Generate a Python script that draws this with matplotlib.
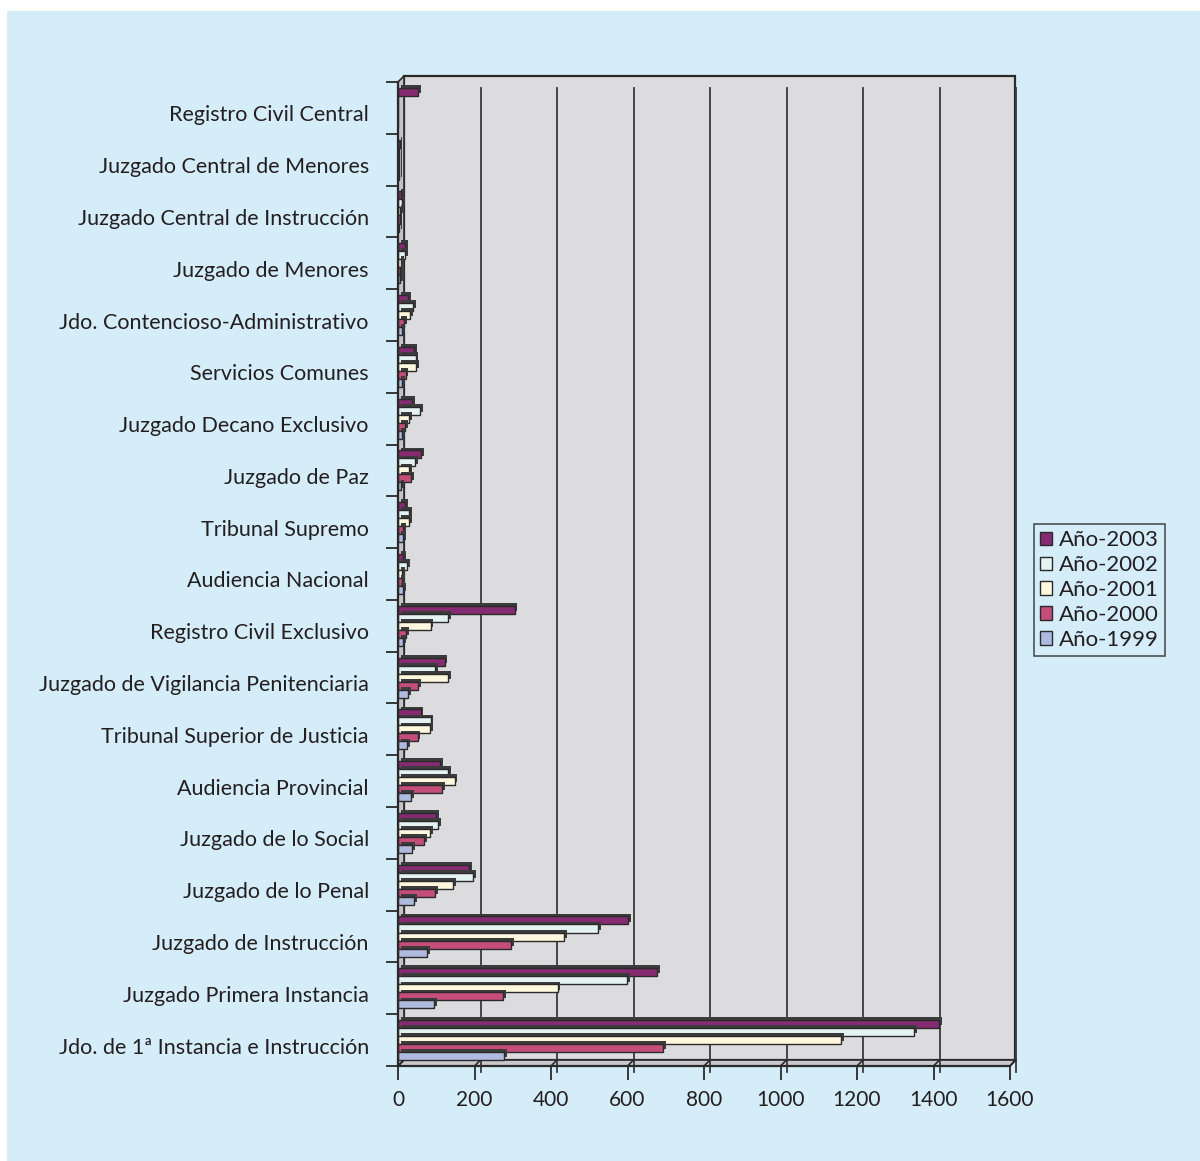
import numpy as np
import matplotlib.pyplot as plt
from matplotlib.patches import Polygon, Rectangle, Patch
from matplotlib.transforms import ScaledTranslation
import matplotlib.patheffects as pe

plt.rcParams['font.family'] = ['Lato', 'DejaVu Sans']

W, H = 1200, 1161

categories = [
    "Registro Civil Central",
    "Juzgado Central de Menores",
    "Juzgado Central de Instrucción",
    "Juzgado de Menores",
    "Jdo. Contencioso-Administrativo",
    "Servicios Comunes",
    "Juzgado Decano Exclusivo",
    "Juzgado de Paz",
    "Tribunal Supremo",
    "Audiencia Nacional",
    "Registro Civil Exclusivo",
    "Juzgado de Vigilancia Penitenciaria",
    "Tribunal Superior de Justicia",
    "Audiencia Provincial",
    "Juzgado de lo Social",
    "Juzgado de lo Penal",
    "Juzgado de Instrucción",
    "Juzgado Primera Instancia",
    "Jdo. de 1ª Instancia e Instrucción",
]

years = ["Año-2003", "Año-2002", "Año-2001", "Año-2000", "Año-1999"]

y2003 = [52, 4, 8, 18, 26, 43, 37, 60, 19, 14, 305, 122, 59, 110, 99, 186, 601, 677, 1415]
y2002 = [0, 3, 10, 18, 40, 46, 57, 44, 30, 24, 131, 97, 85, 130, 105, 197, 524, 599, 1350]
y2001 = [0, 3, 6, 8, 31, 47, 29, 29, 30, 11, 85, 130, 84, 148, 84, 145, 435, 417, 1158]
y2000 = [0, 2, 4, 6, 16, 20, 18, 35, 14, 11, 22, 52, 51, 115, 68, 97, 296, 274, 694]
y1999 = [0, 2, 3, 5, 10, 11, 11, 9, 14, 14, 14, 26, 23, 34, 37, 42, 76, 95, 278]

series = [y2003, y2002, y2001, y2000, y1999]
colors = ["#862a72", "#e4f3f1", "#fff8de", "#c44d7a", "#aebade"]

x_ticks = [0, 200, 400, 600, 800, 1000, 1200, 1400, 1600]

EDGE = "#2a2a2a"
TEXT = "#231f20"
BG = "#d5ecf9"
WALL = "#dcdcde"

fig = plt.figure(figsize=(W / 100, H / 100), dpi=100)
fig.patch.set_facecolor("white")

# pixel-space layer for background and chart walls
bg = fig.add_axes([0, 0, 1, 1])
bg.set_xlim(0, W)
bg.set_ylim(H, 0)
bg.axis("off")
bg.add_patch(Rectangle((7, 11), W, H, facecolor=BG, edgecolor="none"))

# front plane of the plot, in pixels
L, R, T, B = 398, 1010, 82, 1066
D = 6  # depth of the pseudo 3D walls
bg.add_patch(Polygon([(L + D, T - D), (R + D - 1, T - D), (R + D - 1, B - D), (L + D, B - D)],
                     closed=True, facecolor=WALL, edgecolor=EDGE, lw=1.6))
bg.add_patch(Polygon([(L, T), (L + D, T - D), (L + D, B - D), (L, B)],
                     closed=True, facecolor="#c4c4c6", edgecolor=EDGE, lw=1.2))
bg.add_patch(Polygon([(L, B), (L + D, B - D), (R + D - 1, B - D), (R, B)],
                     closed=True, facecolor="#c9c9cb", edgecolor=EDGE, lw=1.2))

ax = fig.add_axes([L / W, 1 - B / H, (R - L) / W, (B - T) / H])
ax.patch.set_alpha(0)

n = len(categories)
xmax = 1600
ax.set_xlim(0, xmax)
ax.set_ylim(n - 0.5, -0.5)

# grid lines on the back wall and their diagonals across the floor
px_x = (R - L) / xmax
dx = D / px_x
dy = D / (B - T)
for v in x_ticks[1:]:
    ax.plot([v + dx, v + dx], [-dy, 1 - dy], transform=ax.get_xaxis_transform(),
            color="#3a3a3a", lw=1.3, zorder=1, clip_on=False)
for v in x_ticks:
    ax.plot([v, v + dx], [0, dy], transform=ax.get_xaxis_transform(),
            color=EDGE, lw=1.2, zorder=1, clip_on=False)

bar_h = 0.155
idx = np.arange(n)
shadow = [pe.SimplePatchShadow(offset=(2.0, 2.0), shadow_rgbFace="#3c3c3c", alpha=1.0),
          pe.Normal()]
for k, (vals, col) in enumerate(zip(series, colors)):
    pos = idx + (k - 2) * bar_h
    bars = ax.barh(pos, vals, height=bar_h, color=col, edgecolor=EDGE, lw=1.0,
                   zorder=3, label=years[k])
    for b in bars:
        b.set_path_effects(shadow)

for s in ["top", "right"]:
    ax.spines[s].set_visible(False)
for s in ["left", "bottom"]:
    ax.spines[s].set_color(EDGE)
    ax.spines[s].set_linewidth(1.6)
    ax.spines[s].set_zorder(4)

ax.set_yticks(idx)
ax.set_yticklabels(categories, fontsize=15.5, color=TEXT)
ax.set_yticks(np.arange(n + 1) - 0.5, minor=True)
ax.tick_params(axis="y", which="major", length=0, pad=21)
ax.tick_params(axis="y", which="minor", length=8.6, width=1.3, color=EDGE, direction="out")
down = ScaledTranslation(0, -5.5 / 100, fig.dpi_scale_trans)
for lab in ax.get_yticklabels():
    lab.set_transform(lab.get_transform() + down)

ax.set_xticks(x_ticks)
ax.set_xticklabels([str(v) for v in x_ticks], fontsize=15, color=TEXT)
ax.tick_params(axis="x", length=10, width=1.3, color=EDGE, direction="out", pad=7)

handles = [Patch(facecolor=c, edgecolor=EDGE, lw=1.0) for c in colors]
leg = fig.legend(handles, years, loc="upper left",
                 bbox_to_anchor=(1034 / W, 1 - 524 / H), fontsize=16,
                 handlelength=0.55, handleheight=0.55, handletextpad=0.3,
                 labelspacing=0.22, borderpad=0.28, borderaxespad=0,
                 fancybox=False, frameon=True)
leg.get_frame().set_facecolor(BG)
leg.get_frame().set_edgecolor(EDGE)
leg.get_frame().set_linewidth(1.2)
for t in leg.get_texts():
    t.set_color(TEXT)

fig.savefig("out.png", dpi=100)
